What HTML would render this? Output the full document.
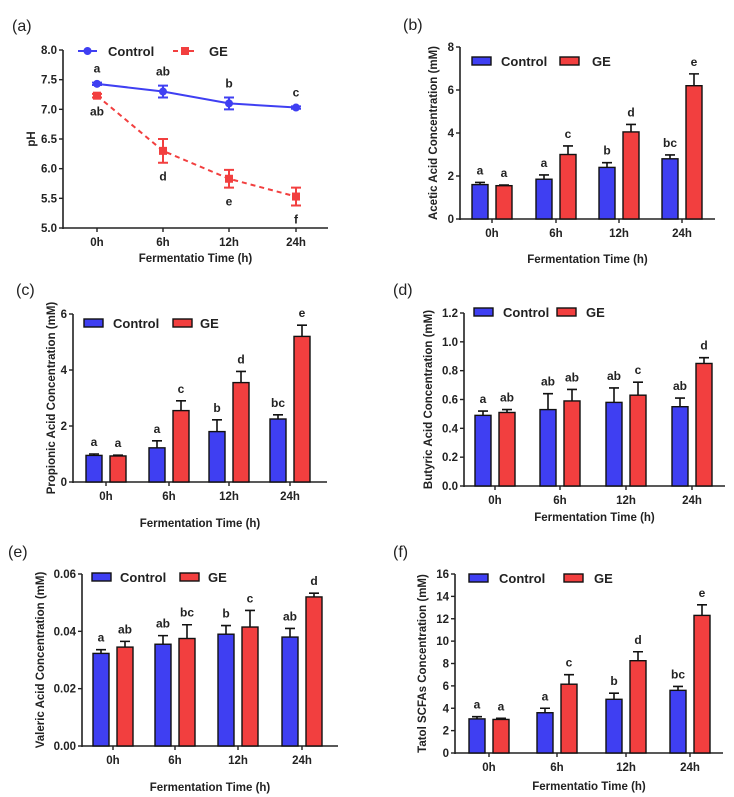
<!DOCTYPE html>
<html><head><meta charset="utf-8"><style>
body{margin:0;background:#fff;}
svg{display:block;font-family:"Liberation Sans",Arial,sans-serif;}
.tk{font-size:11.5px;font-weight:bold;fill:#222;}
.tt{font-size:11.5px;font-weight:bold;fill:#222;}
.lt{font-size:13px;font-weight:bold;fill:#222;}
.pl{font-size:16px;fill:#222;}
.let{font-size:12px;font-weight:bold;fill:#222;}
</style></head><body>
<svg id="fig" width="734" height="797" viewBox="0 0 734 797"></svg>
<script>
const categories = ["0h","6h","12h","24h"];
// (a) pH
const phControl = [7.43, 7.30, 7.10, 7.03];
const phControlErr = [0.02, 0.10, 0.10, 0.02];
const phGE = [7.23, 6.30, 5.83, 5.53];
const phGEErr = [0.03, 0.20, 0.15, 0.15];
const phCtrlLetters = ["a","ab","b","c"];
const phGELetters = ["ab","d","e","f"];
const phTicks = [5.0,5.5,6.0,6.5,7.0,7.5,8.0];
// (b) acetic
const aceControl = [1.6, 1.85, 2.4, 2.8];
const aceControlErr = [0.1, 0.2, 0.22, 0.18];
const aceGE = [1.55, 3.0, 4.05, 6.2];
const aceGEErr = [0.03, 0.4, 0.35, 0.55];
const aceCtrlLetters = ["a","a","b","bc"];
const aceGELetters = ["a","c","d","e"];
const aceTicks = [0,2,4,6,8];
// (c) propionic
const proControl = [0.95, 1.22, 1.8, 2.25];
const proControlErr = [0.05, 0.25, 0.42, 0.15];
const proGE = [0.93, 2.55, 3.55, 5.2];
const proGEErr = [0.03, 0.35, 0.4, 0.4];
const proCtrlLetters = ["a","a","b","bc"];
const proGELetters = ["a","c","d","e"];
const proTicks = [0,2,4,6];
// (d) butyric
const butControl = [0.49, 0.53, 0.58, 0.55];
const butControlErr = [0.03, 0.11, 0.1, 0.06];
const butGE = [0.51, 0.59, 0.63, 0.85];
const butGEErr = [0.02, 0.08, 0.09, 0.04];
const butCtrlLetters = ["a","ab","ab","ab"];
const butGELetters = ["ab","ab","c","d"];
const butTicks = [0.0,0.2,0.4,0.6,0.8,1.0,1.2];
// (e) valeric
const valControl = [0.0323, 0.0355, 0.039, 0.038];
const valControlErr = [0.0013, 0.003, 0.003, 0.003];
const valGE = [0.0345, 0.0375, 0.0415, 0.052];
const valGEErr = [0.002, 0.0048, 0.0058, 0.0013];
const valCtrlLetters = ["a","ab","b","ab"];
const valGELetters = ["ab","bc","c","d"];
const valTicks = [0.00,0.02,0.04,0.06];
// (f) total
const totControl = [3.05, 3.6, 4.8, 5.6];
const totControlErr = [0.2, 0.4, 0.55, 0.35];
const totGE = [3.0, 6.15, 8.25, 12.3];
const totGEErr = [0.1, 0.85, 0.8, 0.95];
const totCtrlLetters = ["a","a","b","bc"];
const totGELetters = ["a","c","d","e"];
const totTicks = [0,2,4,6,8,10,12,14,16];

const NS="http://www.w3.org/2000/svg";
const svg=document.getElementById('fig');
function mk(tag,attrs,parent,text){const e=document.createElementNS(NS,tag);for(const k in attrs)e.setAttribute(k,attrs[k]);if(text!==undefined)e.textContent=text;(parent||svg).appendChild(e);return e;}
const BLUE="#3f3ff2", RED="#f23f3f";

function axes(g,P,ticks,fmt){
  const y=v=>P.y0+(v-P.vmin)/(P.vmax-P.vmin)*(P.y1-P.y0);
  const ax=mk('line',{x1:P.ax,y1:P.y1,x2:P.ax,y2:P.y0+1,stroke:'#222','stroke-width':1.6},g);
  
  
  const bx=mk('line',{x1:P.ax,y1:P.y0,x2:P.xend,y2:P.y0,stroke:'#222','stroke-width':1.6},g);
  
  
  ticks.forEach(t=>{
    mk('line',{x1:P.ax-4,x2:P.ax,y1:y(t),y2:y(t),stroke:'#222','stroke-width':1.4},g);
    const tl=mk('text',{x:P.ax-6,y:y(t)+4,'text-anchor':'end',class:'tk'},g,fmt(t));
    
    
  });
  categories.forEach((c,i)=>{
    mk('line',{x1:P.cats[i],x2:P.cats[i],y1:P.y0,y2:P.y0+4,stroke:'#222','stroke-width':1.4},g);
    const cl=mk('text',{x:P.cats[i],y:P.y0+18,'text-anchor':'middle',class:'tk'},g,c);
    
    
  });
  const xt=mk('text',{x:(P.ax+P.xend)/2+P.xtOff,y:P.xtY,'text-anchor':'middle',class:'tt'},g,P.xtitle);
  
  
  const cy=(P.y0+P.y1)/2;
  const yt=mk('text',{x:P.ytX,y:cy,'text-anchor':'middle',class:'tt',transform:`rotate(-90 ${P.ytX} ${cy})`},g,P.ytitle);
  
  
  const pl=mk('text',{x:P.plX,y:P.plY,class:'pl'},g,P.label);
  
  
  return y;
}

function barPanel(name,P,ticks,fmt,ctrl,ctrlE,ge,geE,cl,gl){
  const g=mk('g',{});
  
  
  const y=axes(g,P,ticks,fmt);
  const w=16, off=12;
  [[ctrl,ctrlE,cl,BLUE,-off,'control'],[ge,geE,gl,RED,off,'ge']].forEach(([vals,errs,lets,col,o,s])=>{
    vals.forEach((v,i)=>{
      const cx=P.cats[i]+o, top=y(v), et=y(v+errs[i]);
      const eb=mk('path',{d:`M${cx} ${top}V${et}M${cx-5} ${et}H${cx+5}`,stroke:'#111','stroke-width':1.6,fill:'none'},g);
      
      
      const r=mk('rect',{x:cx-w/2,y:top,width:w,height:P.y0-top,fill:col,stroke:'#111','stroke-width':1.4},g);
      
      
      const t=mk('text',{x:cx,y:et-8,'text-anchor':'middle',class:'let'},g,lets[i]);
      
      
    });
  });
  const L=P.leg;
  const l1=mk('rect',{x:L[0],y:L[1]-4,width:19,height:8,fill:BLUE,stroke:'#111','stroke-width':1.4},g);
  
  
  const t1=mk('text',{x:L[2],y:L[1]+5,class:'lt'},g,'Control');
  
  
  const l2=mk('rect',{x:L[3],y:L[1]-4,width:19,height:8,fill:RED,stroke:'#111','stroke-width':1.4},g);
  
  
  const t2=mk('text',{x:L[4],y:L[1]+5,class:'lt'},g,'GE');
  
  
}

// Panel (a) line chart
(function(){
  const P={ax:63,xend:328,y0:228,y1:50,vmin:5,vmax:8,cats:[97,163,229,296],xtitle:'Fermentatio Time (h)',xtOff:0,xtY:262,ytitle:'pH',ytX:35,label:'(a)',plX:12,plY:31};
  const g=mk('g',{});
  
  
  const y=axes(g,P,phTicks,t=>t.toFixed(1));
  const series=[[phControl,phControlErr,phCtrlLetters,BLUE,'',-1,'control'],[phGE,phGEErr,phGELetters,RED,'5,4',1,'ge']];
  series.forEach(([vals,errs,lets,col,dash,dir,s])=>{
    const ln=mk('polyline',{points:vals.map((v,i)=>P.cats[i]+','+y(v)).join(' '),fill:'none',stroke:col,'stroke-width':2,'stroke-dasharray':dash},g);
    
    
    vals.forEach((v,i)=>{
      const cx=P.cats[i],a=y(v+errs[i]),b=y(v-errs[i]);
      mk('path',{d:`M${cx} ${a}V${b}M${cx-5} ${a}H${cx+5}M${cx-5} ${b}H${cx+5}`,stroke:col,'stroke-width':2,fill:'none'},g);
      let m;
      if(s==='control') m=mk('circle',{cx:cx,cy:y(v),r:4,fill:col},g);
      else m=mk('rect',{x:cx-4,y:y(v)-4,width:8,height:8,fill:col},g);
      
      
      const ty=dir<0?a-10:b+18;
      const t=mk('text',{x:cx,y:ty,'text-anchor':'middle',class:'let'},g,lets[i]);
      
      
    });
  });
  mk('line',{x1:78,x2:97,y1:51,y2:51,stroke:BLUE,'stroke-width':2},g);
  mk('circle',{cx:87.5,cy:51,r:4,fill:BLUE},g);
  const t1=mk('text',{x:108,y:56,class:'lt'},g,'Control');
  
  
  mk('line',{x1:173,x2:197,y1:51,y2:51,stroke:RED,'stroke-width':2,'stroke-dasharray':'5,3'},g);
  mk('rect',{x:181,y:47,width:8,height:8,fill:RED},g);
  const t2=mk('text',{x:209,y:56,class:'lt'},g,'GE');
  
  
})();

barPanel('panel-b-acetic',{ax:460,xend:715,y0:219,y1:47,vmin:0,vmax:8,cats:[492,556,619,682],xtitle:'Fermentation Time (h)',xtOff:0,xtY:263,ytitle:'Acetic Acid Concentration (mM)',ytX:437,label:'(b)',plX:403,plY:30,leg:[472,61,501,560,592]},aceTicks,t=>String(t),aceControl,aceControlErr,aceGE,aceGEErr,aceCtrlLetters,aceGELetters);

barPanel('panel-c-propionic',{ax:73,xend:327,y0:482,y1:314,vmin:0,vmax:6,cats:[106,169,229,290],xtitle:'Fermentation Time (h)',xtOff:0,xtY:527,ytitle:'Propionic Acid Concentration (mM)',ytX:55,label:'(c)',plX:16,plY:295,leg:[84,323,113,173,200]},proTicks,t=>String(t),proControl,proControlErr,proGE,proGEErr,proCtrlLetters,proGELetters);

barPanel('panel-d-butyric',{ax:464,xend:725,y0:486,y1:313,vmin:0,vmax:1.2,cats:[495,560,626,692],xtitle:'Fermentation Time (h)',xtOff:0,xtY:521,ytitle:'Butyric Acid Concentration (mM)',ytX:432,label:'(d)',plX:393,plY:295,leg:[474,312,503,557,586]},butTicks,t=>t.toFixed(1),butControl,butControlErr,butGE,butGEErr,butCtrlLetters,butGELetters);

barPanel('panel-e-valeric',{ax:82,xend:338,y0:746,y1:574,vmin:0,vmax:0.06,cats:[113,175,238,302],xtitle:'Fermentation Time (h)',xtOff:0,xtY:791,ytitle:'Valeric Acid Concentration (mM)',ytX:44,label:'(e)',plX:8,plY:557,leg:[92,577,120,180,208]},valTicks,t=>t.toFixed(2),valControl,valControlErr,valGE,valGEErr,valCtrlLetters,valGELetters);

barPanel('panel-f-total',{ax:455,xend:723,y0:753,y1:574,vmin:0,vmax:16,cats:[489,557,626,690],xtitle:'Fermentatio Time (h)',xtOff:0,xtY:790,ytitle:'Tatol SCFAs Concentration (mM)',ytX:426,label:'(f)',plX:393,plY:557,leg:[469,578,499,564,594]},totTicks,t=>String(t),totControl,totControlErr,totGE,totGEErr,totCtrlLetters,totGELetters);
</script>
</body></html>
